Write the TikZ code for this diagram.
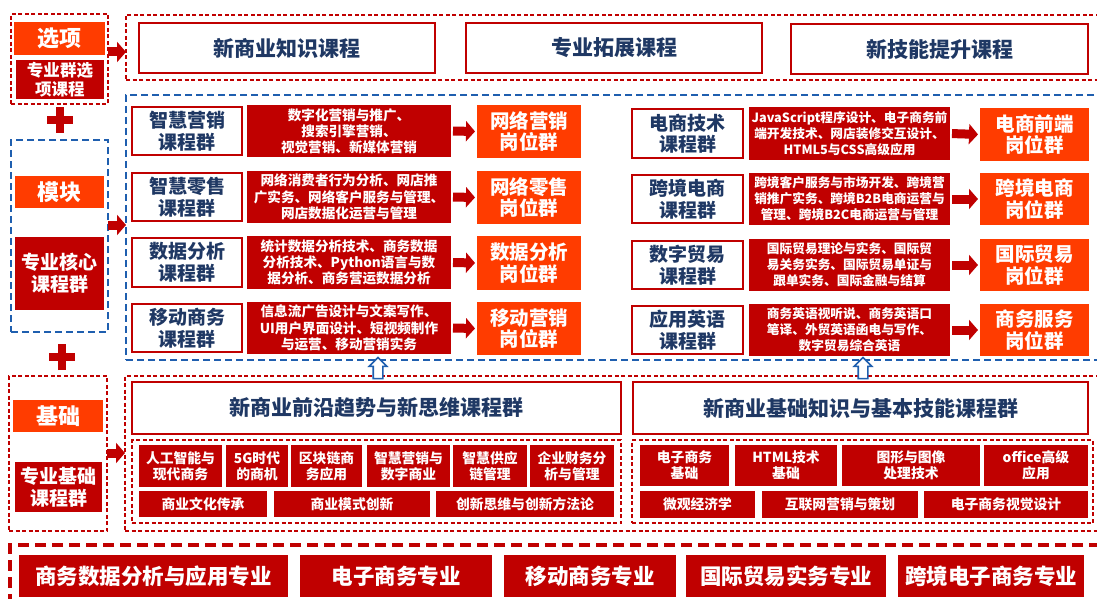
\documentclass[tikz,border=0pt]{standalone}
\usepackage{fontspec}
\setmainfont{Noto Sans CJK SC}
\usetikzlibrary{arrows.meta,shapes.arrows}
\definecolor{dred}{HTML}{C00000}
\definecolor{orng}{HTML}{FF3C00}
\definecolor{navy}{HTML}{1F3864}
\definecolor{dblue}{HTML}{1F5FAF}
\newcommand\fs[2]{\bfseries\fontsize{#1}{#2}\selectfont}
\newcommand\bx[7]{\node[#6, minimum width={#4-#2}, minimum height={#5-#3}] (#1) at ({(#2+#4)/2},{(#3+#5)/2}) {#7};}
\tikzset{
  every node/.style={inner sep=0pt, outer sep=0pt, align=center},
  rdash/.style={draw=dred, line width=1.4pt, dash pattern=on 4pt off 2.5pt},
  rdashthick/.style={draw=dred, line width=3.6pt, dash pattern=on 11pt off 6pt},
  bdash/.style={draw=dblue, line width=2.2pt, dash pattern=on 7pt off 4pt},
  whitebox/.style={draw=dred, line width=2.4pt, fill=white, text=navy, font=\fs{19}{21.5}},
  titlebox/.style={draw=dred, line width=2.4pt, fill=white, text=navy, font=\fs{21}{24}},
  descbox/.style={fill=dred, text=white, font=\fs{13.6}{16.2}},
  descboxr/.style={fill=dred, text=white, font=\fs{12.7}{16}},
  orgbox/.style={fill=orng, text=white, font=\fs{19.5}{21.5}},
  redbox/.style={fill=dred, text=white},
  smallbox/.style={fill=dred, text=white, font=\fs{13.8}{16}},
  majorbox/.style={fill=dred, text=white, font=\fs{21.5}{24}},
  barrow/.style={draw=dred, line width=9pt, -{Triangle[length=9pt,width=20pt]}, shorten <=2pt, shorten >=2pt},
  uparrow/.style={single arrow, draw=dblue, line width=1.6pt, fill=white, shape border rotate=90, minimum height=21pt, inner sep=4pt, single arrow head extend=4pt},
  plusbar/.style={draw=dred, line width=8pt}
}
\begin{document}
\begin{tikzpicture}[x=1pt,y=-1pt]
\useasboundingbox[fill=white] (0,0) rectangle (1097,599);
% ---------- left column ----------
\bx{optc}{11}{14}{108}{104}{rdash}{}
\bx{opt}{14}{22}{105}{55}{orgbox, font=\fs{22}{24}}{选项}
\bx{optd}{16}{60}{104}{99}{redbox, font=\fs{16.5}{18.5}}{专业群选\\项课程}
\coordinate (p1) at (60,120);
\draw[plusbar] ([yshift=-13pt]p1) -- ([yshift=13pt]p1) ([xshift=-13pt]p1) -- ([xshift=13pt]p1);
\bx{modc}{11}{140}{108}{332}{bdash}{}
\bx{mod}{15}{176}{104}{208}{orgbox, font=\fs{22}{24}}{模块}
\bx{modd}{15}{237}{104}{310}{redbox, font=\fs{19}{22}}{专业核心\\课程群}
\coordinate (p2) at (62,357);
\draw[plusbar] ([yshift=-13pt]p2) -- ([yshift=13pt]p2) ([xshift=-13pt]p2) -- ([xshift=13pt]p2);
\bx{basc}{9}{376}{107}{531}{rdash}{}
\bx{bas}{13}{400}{103}{432}{orgbox, font=\fs{22}{24}}{基础}
\bx{basd}{15}{462}{102}{512}{redbox, font=\fs{19}{22}}{专业基础\\课程群}
% ---------- top options ----------
\bx{topc}{126}{15}{1110}{80}{rdash}{}
\bx{t1}{139}{23}{435}{73}{titlebox}{新商业知识课程}
\bx{t2}{466}{23}{762}{73}{titlebox}{专业拓展课程}
\bx{t3}{791}{24}{1088}{74}{titlebox}{新技能提升课程}
% ---------- module ----------
\bx{mainc}{126}{95}{1110}{360}{bdash}{}
% left rows
\bx{w1}{132}{107}{242}{155}{whitebox}{智慧营销\\课程群}
\bx{d1}{247}{105}{451}{157}{descbox}{数字化营销与推广、\\搜索引擎营销、\\视觉营销、新媒体营销}
\bx{o1}{477}{105}{581}{158}{orgbox}{网络营销\\岗位群}
\bx{w2}{132}{173}{242}{221}{whitebox}{智慧零售\\课程群}
\bx{d2}{247}{171}{451}{223}{descbox}{网络消费者行为分析、网店推\\广实务、网络客户服务与管理、\\网店数据化运营与管理}
\bx{o2}{477}{171}{581}{224}{orgbox}{网络零售\\岗位群}
\bx{w3}{132}{238}{242}{287}{whitebox}{数据分析\\课程群}
\bx{d3}{247}{236}{451}{289}{descbox}{统计数据分析技术、商务数据\\分析技术、Python语言与数\\据分析、商务营运数据分析}
\bx{o3}{477}{236}{581}{290}{orgbox}{数据分析\\岗位群}
\bx{w4}{132}{304}{242}{352}{whitebox}{移动商务\\课程群}
\bx{d4}{247}{302}{451}{354}{descbox}{信息流广告设计与文案写作、\\UI用户界面设计、短视频制作\\与运营、移动营销实务}
\bx{o4}{477}{302}{581}{355}{orgbox}{移动营销\\岗位群}
% right rows
\bx{w5}{632}{109}{743}{158}{whitebox}{电商技术\\课程群}
\bx{d5}{749}{107}{950}{160}{descboxr}{JavaScript程序设计、电子商务前\\端开发技术、网店装修交互设计、\\HTML5与CSS高级应用}
\bx{o5}{980}{108}{1089}{161}{orgbox}{电商前端\\岗位群}
\bx{w6}{632}{175}{743}{223}{whitebox}{跨境电商\\课程群}
\bx{d6}{749}{173}{950}{225}{descboxr}{跨境客户服务与市场开发、跨境营\\销推广实务、跨境B2B电商运营与\\管理、跨境B2C电商运营与管理}
\bx{o6}{980}{173}{1089}{225}{orgbox}{跨境电商\\岗位群}
\bx{w7}{632}{241}{743}{289}{whitebox}{数字贸易\\课程群}
\bx{d7}{749}{239}{950}{291}{descboxr}{国际贸易理论与实务、国际贸\\易关务实务、国际贸易单证与\\跟单实务、国际金融与结算}
\bx{o7}{980}{239}{1089}{291}{orgbox}{国际贸易\\岗位群}
\bx{w8}{632}{306}{743}{354}{whitebox}{应用英语\\课程群}
\bx{d8}{749}{304}{950}{356}{descboxr}{商务英语视听说、商务英语口\\笔译、外贸英语函电与写作、\\数字贸易综合英语}
\bx{o8}{980}{304}{1089}{356}{orgbox}{商务服务\\岗位群}
% row arrows
\foreach \i in {1,...,8}{\draw[barrow] (d\i.east) -- (o\i.west);}
% ---------- base ----------
\bx{basec}{125}{376}{1110}{531}{rdash}{}
\bx{b1}{132}{382}{621}{434}{titlebox}{新商业前沿趋势与新思维课程群}
\bx{b2}{633}{382}{1088}{434}{titlebox}{新商业基础知识与基本技能课程群}
\bx{bl}{132}{440}{621}{523}{rdash}{}
\bx{br}{632}{440}{1093}{523}{rdash}{}
\bx{s1}{139}{445}{222}{487}{smallbox}{人工智能与\\现代商务}
\bx{s2}{226}{445}{288}{487}{smallbox}{5G时代\\的商机}
\bx{s3}{291}{445}{362}{487}{smallbox}{区块链商\\务应用}
\bx{s4}{367}{445}{450}{487}{smallbox}{智慧营销与\\数字商业}
\bx{s5}{453}{445}{527}{487}{smallbox}{智慧供应\\链管理}
\bx{s6}{530}{445}{614}{487}{smallbox}{企业财务分\\析与管理}
\bx{s7}{139}{491}{267}{517}{smallbox}{商业文化传承}
\bx{s8}{274}{491}{430}{517}{smallbox}{商业模式创新}
\bx{s9}{436}{491}{614}{517}{smallbox}{创新思维与创新方法论}
\bx{r1}{640}{445}{729}{486}{smallbox}{电子商务\\基础}
\bx{r2}{735}{445}{837}{486}{smallbox}{HTML技术\\基础}
\bx{r3}{842}{445}{980}{486}{smallbox}{图形与图像\\处理技术}
\bx{r4}{984}{445}{1088}{486}{smallbox}{office高级\\应用}
\bx{r5}{640}{491}{755}{518}{smallbox}{微观经济学}
\bx{r6}{762}{491}{918}{518}{smallbox}{互联网营销与策划}
\bx{r7}{924}{491}{1088}{518}{smallbox}{电子商务视觉设计}
% up arrows
\node[uparrow] (up1) at (378,370.5) {};
\node[uparrow] (up2) at (863,370.5) {};
% ---------- majors ----------
\bx{majc}{10}{545}{1110}{625}{rdashthick}{}
\bx{m1}{19}{555}{288}{597}{majorbox}{商务数据分析与应用专业}
\bx{m2}{300}{555}{492}{597}{majorbox}{电子商务专业}
\bx{m3}{504}{555}{676}{597}{majorbox}{移动商务专业}
\bx{m4}{686}{555}{886}{597}{majorbox}{国际贸易实务专业}
\bx{m5}{898}{555}{1084}{597}{majorbox}{跨境电子商务专业}
% ---------- side arrows ----------
\coordinate (ya) at (0,52);
\coordinate (yb) at (0,225);
\coordinate (yc) at (0,453);
\draw[barrow, shorten <=0pt, shorten >=0pt] (optc.east |- ya) -- (topc.west |- ya);
\draw[barrow, shorten <=0pt, shorten >=0pt] (modc.east |- yb) -- (mainc.west |- yb);
\draw[barrow, shorten <=0pt, shorten >=0pt] (basc.east |- yc) -- (basec.west |- yc);
\end{tikzpicture}
\end{document}
